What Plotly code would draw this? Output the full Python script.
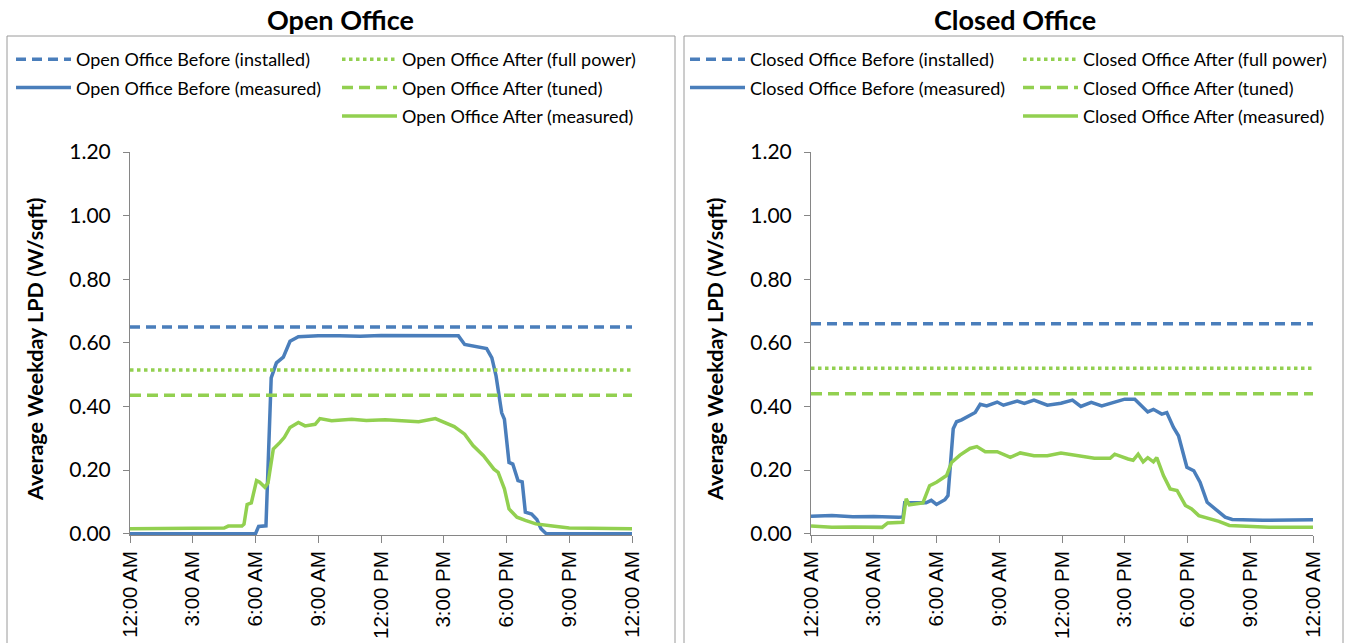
import plotly.graph_objects as go

# hours of the day, tick labels
TICK_HOURS = [0, 3, 6, 9, 12, 15, 18, 21, 24]
TICK_TEXT = ["12:00 AM", "3:00 AM", "6:00 AM", "9:00 AM", "12:00 PM",
             "3:00 PM", "6:00 PM", "9:00 PM", "12:00 AM"]

# --- Open Office ---
OPEN_INSTALLED = 0.65
OPEN_FULL_POWER = 0.515
OPEN_TUNED = 0.435

OPEN_BEFORE_T = [0, 6.0, 6.15, 6.5, 6.75, 7.0, 7.33, 7.5, 7.65, 8.05, 8.5, 9.0, 10.0, 11.0,
                 12.0, 13.0, 14.0, 15.0, 15.7, 16.0, 16.5, 17.05, 17.3, 17.5, 17.77, 17.9,
                 18.12, 18.3, 18.55, 18.75, 18.9, 19.2, 19.45, 19.65, 19.9, 24]
OPEN_BEFORE_V = [0, 0, 0.023, 0.025, 0.49, 0.537, 0.555, 0.58, 0.605, 0.619, 0.621, 0.622, 0.622, 0.621,
                 0.623, 0.623, 0.623, 0.623, 0.622, 0.595, 0.59, 0.582, 0.553, 0.496, 0.38, 0.36,
                 0.224, 0.219, 0.167, 0.163, 0.068, 0.062, 0.045, 0.016, 0, 0]

OPEN_AFTER_T = [0, 2.0, 4.5, 4.7, 5.35, 5.45, 5.6, 5.8, 6.05, 6.2, 6.45, 6.6, 6.85, 7.17, 7.38,
                7.65, 8.05, 8.37, 8.85, 9.08, 9.64, 10.6, 11.3, 12.2, 13.0, 13.8, 14.6, 15.2,
                15.5, 16.0, 16.4, 16.9, 17.4, 17.6, 17.9, 18.12, 18.5, 18.9, 19.4, 20.2, 21.0, 24]
OPEN_AFTER_V = [0.016, 0.016, 0.018, 0.024, 0.024, 0.03, 0.092, 0.097, 0.167, 0.162, 0.146, 0.16, 0.266, 0.287, 0.303,
                0.334, 0.35, 0.339, 0.344, 0.362, 0.355, 0.36, 0.356, 0.358, 0.355, 0.352, 0.362, 0.344,
                0.337, 0.313, 0.277, 0.245, 0.203, 0.193, 0.141, 0.078, 0.052, 0.042, 0.031, 0.024, 0.018, 0.016]

# --- Closed Office ---
CLOSED_INSTALLED = 0.66
CLOSED_FULL_POWER = 0.52
CLOSED_TUNED = 0.44

CLOSED_BEFORE_T = [0, 1.0, 2.0, 3.0, 4.2, 4.4, 4.48, 5.0, 5.5, 5.75, 6.0, 6.4, 6.55, 6.8, 6.96, 7.2,
                   7.52, 7.85, 8.09, 8.4, 8.9, 9.2, 9.86, 10.2, 10.66, 11.3, 11.95, 12.5, 12.9, 13.4,
                   13.9, 14.36, 15.0, 15.48, 15.8, 16.1, 16.37, 16.77, 17.01, 17.33, 17.57, 17.97,
                   18.3, 18.6, 18.94, 19.34, 19.8, 20.14, 21.6, 24]
CLOSED_BEFORE_V = [0.055, 0.057, 0.053, 0.054, 0.052, 0.053, 0.097, 0.096, 0.097, 0.105, 0.092, 0.107, 0.12, 0.33, 0.352, 0.358,
                   0.37, 0.381, 0.407, 0.402, 0.414, 0.404, 0.417, 0.41, 0.42, 0.404, 0.41, 0.42, 0.40, 0.413,
                   0.402, 0.41, 0.423, 0.423, 0.402, 0.383, 0.391, 0.376, 0.381, 0.334, 0.308, 0.209,
                   0.198, 0.162, 0.099, 0.078, 0.052, 0.045, 0.042, 0.044]

CLOSED_AFTER_T = [0, 1.0, 2.0, 3.4, 3.67, 4.39, 4.55, 4.7, 5.35, 5.67, 6.0, 6.48, 6.72, 7.12, 7.6,
                  7.93, 8.33, 8.9, 9.53, 10.0, 10.66, 11.3, 11.95, 12.9, 13.55, 14.3, 14.52, 15.16,
                  15.4, 15.64, 15.88, 16.1, 16.37, 16.53, 16.85, 17.17, 17.5, 17.9, 18.2, 18.54,
                  19.18, 19.5, 20.0, 20.8, 21.9, 24]
CLOSED_AFTER_V = [0.024, 0.02, 0.021, 0.02, 0.034, 0.036, 0.11, 0.091, 0.097, 0.151, 0.162, 0.183, 0.224, 0.247, 0.268,
                  0.274, 0.258, 0.258, 0.24, 0.254, 0.245, 0.245, 0.254, 0.245, 0.237, 0.237, 0.25, 0.235,
                  0.231, 0.25, 0.226, 0.239, 0.226, 0.239, 0.183, 0.141, 0.136, 0.089, 0.078, 0.057,
                  0.045, 0.039, 0.026, 0.023, 0.02, 0.02]

BLUE = "#4A7EBB"
GREEN = "#92D050"
W, H = 1348, 643
LEGEND_FONT = dict(family="Lato, sans-serif", size=18, color="#000000")


def px_x(px):
    return px / W


def px_y(py):
    return 1 - py / H


fig = go.Figure()


def add_panel(name, sfx, installed, full, tuned, bt, bv, at, av, leg_a, leg_b):
    xa = "x" + sfx
    ya = "y" + sfx
    common = dict(xaxis=xa, yaxis=ya, mode="lines", hoverinfo="skip")
    fig.add_trace(go.Scatter(x=[0, 24], y=[installed, installed], name=f"{name} Before (installed)",
                             line=dict(color=BLUE, width=3.5, dash="10px,6px"), legend=leg_a,
                             legendgroup=name + "1", **common))
    fig.add_trace(go.Scatter(x=bt, y=bv, name=f"{name} Before (measured)",
                             line=dict(color=BLUE, width=3.5), legend=leg_a,
                             legendgroup=name + "2", **common))
    fig.add_trace(go.Scatter(x=[0, 24], y=[full, full], name=f"{name} After (full power)",
                             line=dict(color=GREEN, width=3.5, dash="dot"), legend=leg_b,
                             legendgroup=name + "3", **common))
    fig.add_trace(go.Scatter(x=[0, 24], y=[tuned, tuned], name=f"{name} After (tuned)",
                             line=dict(color=GREEN, width=3.5, dash="11px,6px"), legend=leg_b,
                             legendgroup=name + "4", **common))
    fig.add_trace(go.Scatter(x=at, y=av, name=f"{name} After (measured)",
                             line=dict(color=GREEN, width=3.5), legend=leg_b,
                             legendgroup=name + "5", **common))


add_panel("Open Office", "", OPEN_INSTALLED, OPEN_FULL_POWER, OPEN_TUNED,
          OPEN_BEFORE_T, OPEN_BEFORE_V, OPEN_AFTER_T, OPEN_AFTER_V, "legend", "legend2")
add_panel("Closed Office", "2", CLOSED_INSTALLED, CLOSED_FULL_POWER, CLOSED_TUNED,
          CLOSED_BEFORE_T, CLOSED_BEFORE_V, CLOSED_AFTER_T, CLOSED_AFTER_V, "legend3", "legend4")

xaxis_style = dict(range=[0, 24], tickvals=TICK_HOURS, ticktext=TICK_TEXT, tickangle=-90,
                   showgrid=False, zeroline=False, showline=True, linecolor="#868686", linewidth=1,
                   ticks="outside", ticklen=7, tickcolor="#868686", automargin=False,
                   tickfont=dict(family="Liberation Sans, Arial, sans-serif", size=20.5, color="#000000"))
yaxis_style = dict(range=[-0.004, 1.2], tickvals=[0, 0.2, 0.4, 0.6, 0.8, 1.0, 1.2], tickformat=".2f",
                   showgrid=False, zeroline=False, showline=True, linecolor="#868686", linewidth=1,
                   ticks="outside", ticklen=6, tickcolor="#868686", automargin=False,
                   ticklabelstandoff=8,
                   tickfont=dict(family="Lato, sans-serif", size=21, color="#000000"))

dom_y = [px_y(535), px_y(152)]
legend_common = dict(font=LEGEND_FONT, bgcolor="rgba(0,0,0,0)", xanchor="left", yanchor="top",
                     orientation="v", tracegroupgap=2, itemwidth=55)

fig.update_layout(
    width=W, height=H, autosize=False,
    margin=dict(l=0, r=0, t=0, b=0),
    paper_bgcolor="white", plot_bgcolor="white",
    xaxis=dict(domain=[px_x(130), px_x(632)], anchor="y", **xaxis_style),
    yaxis=dict(domain=dom_y, anchor="x", **yaxis_style),
    xaxis2=dict(domain=[px_x(811), px_x(1313)], anchor="y2", **xaxis_style),
    yaxis2=dict(domain=dom_y, anchor="x2", **yaxis_style),
    legend=dict(x=px_x(11), y=px_y(41), **legend_common),
    legend2=dict(x=px_x(337), y=px_y(41), **legend_common),
    legend3=dict(x=px_x(685), y=px_y(41), **legend_common),
    legend4=dict(x=px_x(1018), y=px_y(41), **legend_common),
    showlegend=True,
    shapes=[
        dict(type="rect", xref="paper", yref="paper", x0=px_x(7), x1=px_x(675), y0=-0.05, y1=px_y(36),
             line=dict(color="#9A9A9A", width=1), layer="below"),
        dict(type="rect", xref="paper", yref="paper", x0=px_x(684), x1=px_x(1343), y0=-0.05, y1=px_y(36),
             line=dict(color="#9A9A9A", width=1), layer="below"),
    ],
    annotations=[
        dict(text="<b>Open Office</b>", xref="paper", yref="paper", x=px_x(340), y=px_y(20),
             xanchor="center", yanchor="middle", showarrow=False,
             font=dict(family="Lato, sans-serif", size=27, color="#000000")),
        dict(text="<b>Closed Office</b>", xref="paper", yref="paper", x=px_x(1015), y=px_y(20),
             xanchor="center", yanchor="middle", showarrow=False,
             font=dict(family="Lato, sans-serif", size=27, color="#000000")),
        dict(text="<b>Average Weekday LPD (W/sqft)</b>", xref="paper", yref="paper",
             x=px_x(35), y=px_y(349), xanchor="center", yanchor="middle", textangle=-90, showarrow=False,
             font=dict(family="Lato, sans-serif", size=21.5, color="#000000")),
        dict(text="<b>Average Weekday LPD (W/sqft)</b>", xref="paper", yref="paper",
             x=px_x(715), y=px_y(349), xanchor="center", yanchor="middle", textangle=-90, showarrow=False,
             font=dict(family="Lato, sans-serif", size=21.5, color="#000000")),
    ],
)

# the page body has a default 8px margin; drop it so the figure fills the window
fig.write_html("out.html", config={"displayModeBar": False},
               post_script="document.body.style.margin='0';")
